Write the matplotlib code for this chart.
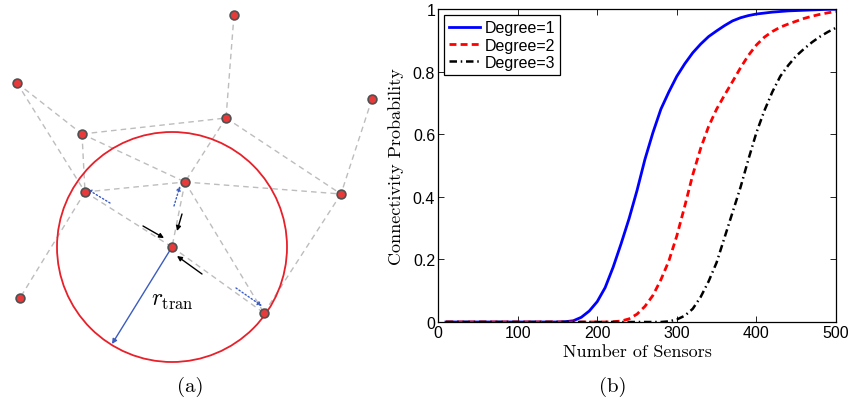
import matplotlib
matplotlib.use("Agg")
import matplotlib.pyplot as plt
from matplotlib.patches import Circle

plt.rcParams["mathtext.fontset"] = "cm"

# (a) 센서 노드 위치 (그림 픽셀 좌표)
node_x = [234, 17, 372, 226, 82, 185, 85, 341, 172, 20, 264]
node_y = [16, 84, 100, 119, 135, 183, 193, 195, 248, 299, 314]
# 연결 (노드 번호 쌍)
edges = [(0, 3), (1, 4), (1, 6), (4, 3), (4, 6), (4, 5), (3, 5), (3, 7), (2, 7),
         (6, 5), (5, 7), (6, 9), (6, 8), (8, 10), (5, 8), (5, 10), (7, 10)]
center_node = 8
r_tran = 115
r_end = (112, 345)
# 들어오는 화살표 (시작, 끝)
in_arrows = [((143, 227), (164, 239)), ((182, 215), (177, 232)), ((202, 275), (177, 257))]
# 나가는 화살표 (점선)
out_arrows = [((110, 204), (87, 190)), ((174, 207), (180, 187)), ((236, 289), (262, 307))]

# (b) 연결 확률 데이터
sensors = [10, 50, 100, 150, 160, 170, 180, 190, 200, 210, 220, 230, 240, 250, 260, 270, 280,
           290, 300, 310, 320, 330, 340, 350, 360, 370, 380, 390, 400, 410, 420, 430, 440,
           450, 460, 470, 480, 490, 500]
degree1 = [0, 0, 0, 0, 0.001, 0.004, 0.015, 0.035, 0.065, 0.11, 0.175, 0.25, 0.33, 0.42, 0.52,
           0.605, 0.68, 0.735, 0.785, 0.825, 0.86, 0.888, 0.912, 0.93, 0.947, 0.962, 0.972,
           0.979, 0.984, 0.987, 0.99, 0.992, 0.994, 0.995, 0.996, 0.997, 0.998, 0.999, 0.999]
degree2 = [0, 0, 0, 0, 0, 0, 0, 0, 0, 0, 0.001, 0.003, 0.01, 0.025, 0.05, 0.085, 0.135,
           0.195, 0.275, 0.37, 0.47, 0.555, 0.625, 0.68, 0.725, 0.768, 0.812, 0.852, 0.885,
           0.91, 0.928, 0.942, 0.952, 0.961, 0.97, 0.977, 0.983, 0.988, 0.992]
degree3 = [0, 0, 0, 0, 0, 0, 0, 0, 0, 0, 0, 0, 0, 0, 0, 0, 0, 0.002, 0.008, 0.02, 0.042,
           0.08, 0.13, 0.19, 0.27, 0.35, 0.43, 0.52, 0.605, 0.675, 0.735, 0.785, 0.82, 0.85,
           0.873, 0.894, 0.912, 0.927, 0.94]
x_ticks = [0, 100, 200, 300, 400, 500]
y_ticks = [0, 0.2, 0.4, 0.6, 0.8, 1]
y_ticklabels = ["0", "0.2", "0.4", "0.6", "0.8", "1"]

fig = plt.figure(figsize=(8.5, 4.02), dpi=100)

# ---- (a) 네트워크 그림
ax1 = fig.add_axes([0, 0, 400 / 850, 1])
ax1.set_xlim(0, 400)
ax1.set_ylim(402, 0)
ax1.axis("off")

for i, j in edges:
    ax1.plot([node_x[i], node_x[j]], [node_y[i], node_y[j]], color="#bdbdbd",
             lw=1, linestyle=(0, (4, 3)), zorder=1)

cx, cy = node_x[center_node], node_y[center_node]
ax1.add_patch(Circle((cx, cy), r_tran, fill=False, edgecolor="#e8202a", lw=1.3, zorder=2))

ax1.annotate("", xy=r_end, xytext=(cx, cy),
             arrowprops=dict(arrowstyle="-|>", color="#3b5cc0", lw=1, mutation_scale=7,
                             shrinkA=0, shrinkB=0), zorder=3)
for s, e in in_arrows:
    ax1.annotate("", xy=e, xytext=s,
                 arrowprops=dict(arrowstyle="-|>", color="black", lw=1, mutation_scale=7,
                                 shrinkA=0, shrinkB=0), zorder=3)
for s, e in out_arrows:
    ax1.annotate("", xy=e, xytext=s,
                 arrowprops=dict(arrowstyle="-|>", color="#3b5cc0", lw=1, linestyle=":",
                                 mutation_scale=6, shrinkA=0, shrinkB=0), zorder=3)

ax1.scatter(node_x, node_y, s=40, color="#e83a3a", edgecolors="#505050", linewidths=1.2, zorder=4)
ax1.text(172, 300, r"$r_{\mathrm{tran}}$", fontsize=17, ha="center", va="center")

fig.text(190 / 850, 1 - 387 / 402, "(a)", fontsize=15, family="cmr10", ha="center", va="center")

# ---- (b) 연결 확률 곡선
ax2 = fig.add_axes([438 / 850, 79 / 402, 398 / 850, 313 / 402])
ax2.plot(sensors, degree1, color="blue", lw=2, label="Degree=1")
ax2.plot(sensors, degree2, color="red", lw=2, linestyle=(0, (2.5, 1.5)), label="Degree=2")
ax2.plot(sensors, degree3, color="black", lw=1.8, linestyle=(0, (3, 1.5, 0.6, 1.5)), label="Degree=3")

ax2.set_xlim(0, 500)
ax2.set_ylim(0, 1)
ax2.set_xticks(x_ticks)
ax2.set_yticks(y_ticks)
ax2.set_yticklabels(y_ticklabels)
ax2.tick_params(direction="in", top=True, right=True, length=4, width=0.6, labelsize=11.5, pad=2)
for lab in ax2.get_xticklabels() + ax2.get_yticklabels():
    lab.set_family("Liberation Sans")
for sp in ax2.spines.values():
    sp.set_linewidth(0.9)

ax2.set_xlabel("Number of Sensors", fontsize=13, family="cmr10")
ax2.set_ylabel("Connectivity Probability", fontsize=13, family="cmr10")
ax2.xaxis.set_label_coords(0.5, -0.07)
ax2.yaxis.set_label_coords(-0.085, 0.5)

leg = ax2.legend(loc="upper left", prop={"family": "Liberation Sans", "size": 11.5},
                 fancybox=False, edgecolor="black", framealpha=1, handlelength=1.9,
                 labelspacing=0.15, borderpad=0.3, handletextpad=0.3, borderaxespad=0.4)
leg.get_frame().set_linewidth(0.9)

fig.text(613 / 850, 1 - 387 / 402, "(b)", fontsize=15, family="cmr10", ha="center", va="center")

fig.savefig("out.png", dpi=100)
